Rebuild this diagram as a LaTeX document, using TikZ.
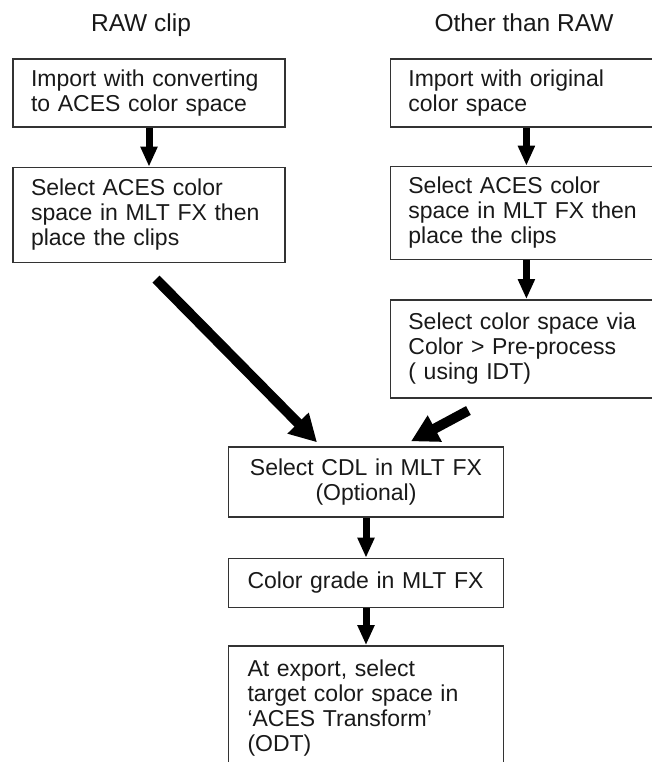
\documentclass[tikz,border=0pt]{standalone}
\usepackage{fontspec}
\setmainfont{Liberation Sans}
\usetikzlibrary{positioning,arrows.meta,calc}
\newcommand\flowfont{\fontsize{23}{25}\selectfont}
\newcommand\headfont{\fontsize{24.5}{26}\selectfont}
\tikzset{
  stepbox/.style={draw=black!80, line width=1.4pt, text=black!90, font=\flowfont, inner xsep=18pt, text width=236pt, align=left},
  midbox/.style={stepbox, inner xsep=19pt, text width=237pt},
  heading/.style={font=\headfont, text=black!90, anchor=base},
  downarrow/.style={line width=7pt, -{Triangle[length=20pt,width=16pt]}},
  bigarrow/.style={line width=10pt, -{Triangle[length=27pt,width=28pt]}}
}
\begin{document}
\begin{tikzpicture}[x=1pt, y=-1pt, node distance=39pt]
  \useasboundingbox (0,0) rectangle (652,762);
  \clip (0,0) rectangle (652,762);
  \node (rawtitle) [heading] at (141,32) {RAW clip};
  \node (othertitle) [heading] at (524,32) {Other than RAW};
  \node (rawimport) [stepbox, minimum height=68pt] at (149,93) {Import with converting\\to ACES color space};
  \node (rawplace) [stepbox, minimum height=95pt, below=of rawimport] {Select ACES color\\space in MLT FX then\\place the clips};
  \node (otherimport) [stepbox, minimum height=68pt, right=104pt of rawimport] {Import with original\\color space};
  \node (otherplace) [stepbox, minimum height=93pt, below=38pt of otherimport] {Select ACES color\\space in MLT FX then\\place the clips};
  \node (idt) [stepbox, minimum height=98pt, below=of otherplace] {Select color space via\\Color > Pre-process\\( using IDT)};
  \node (cdl) [midbox, align=center, minimum height=70pt] at (366,482) {Select CDL in MLT FX\\(Optional)};
  \node (grade) [midbox, minimum height=49pt, below=40pt of cdl] {Color grade in MLT FX};
  \node (odt) [midbox, minimum height=125pt, below=37pt of grade] {At export, select\\target color space in\\‘ACES Transform’\\(ODT)};
  \coordinate (rawtail) at ($(rawplace.south)+(7,16)$);
  \coordinate (rawtip) at ($(cdl.north)+(-49,-4)$);
  \coordinate (othertail) at ($(idt.south)+(-58,12)$);
  \coordinate (othertip) at ($(cdl.north)+(45,-5)$);
  \draw[downarrow] (rawimport) -- (rawplace);
  \draw[downarrow] (otherimport) -- (otherplace);
  \draw[downarrow] (otherplace) -- (idt);
  \draw[bigarrow] (rawtail) -- (rawtip);
  \draw[bigarrow] (othertail) -- (othertip);
  \draw[downarrow] (cdl) -- (grade);
  \draw[downarrow] (grade) -- (odt);
\end{tikzpicture}
\end{document}
